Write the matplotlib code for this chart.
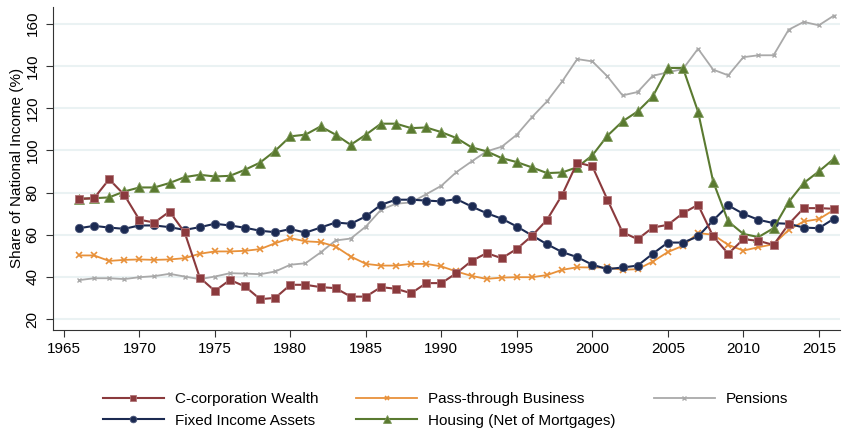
import numpy as np
import matplotlib
matplotlib.use('Agg')
import matplotlib.pyplot as plt

plt.rcParams['font.family'] = ['Liberation Sans', 'DejaVu Sans']

# Years 1966-2016
years = list(range(1966, 2017))

# Share of national income (%)
ccorp = [77.0, 77.3, 86.3, 78.9, 67.1, 65.8, 71.0, 61.1, 39.7, 33.4,
         38.6, 35.5, 29.5, 30.1, 36.3, 36.3, 35.2, 34.7, 30.7, 30.7,
         35.2, 34.4, 32.3, 37.1, 37.1, 41.8, 47.6, 51.3, 48.9, 53.3,
         59.5, 67.1, 78.9, 94.2, 92.4, 76.6, 61.2, 57.9, 63.4, 64.7,
         70.2, 74.2, 59.2, 51.0, 57.9, 57.1, 55.2, 65.0, 72.6, 72.6,
         72.3]
passthrough = [50.2, 50.2, 47.6, 48.1, 48.3, 48.1, 48.3, 48.9, 51.0, 52.1,
               52.1, 52.4, 53.2, 56.0, 58.4, 56.9, 56.5, 54.4, 49.7, 46.2,
               45.4, 45.4, 46.2, 46.2, 45.0, 42.6, 40.5, 39.1, 39.7, 39.9,
               39.9, 40.9, 43.4, 44.6, 44.5, 44.5, 43.4, 43.7, 47.3, 51.8,
               54.8, 60.8, 60.0, 55.2, 52.5, 54.1, 55.5, 62.3, 66.3, 67.4,
               71.8]
pensions = [38.5, 39.4, 39.4, 39.0, 39.9, 40.4, 41.5, 40.2, 39.0, 40.2,
            41.8, 41.6, 41.3, 42.6, 45.8, 46.5, 51.6, 57.3, 58.2, 63.9,
            71.8, 74.7, 75.3, 79.2, 83.2, 89.7, 94.7, 99.5, 101.7, 107.4,
            115.7, 123.2, 132.6, 143.2, 142.1, 135.0, 126.0, 127.6, 135.3, 136.9,
            138.5, 148.1, 138.2, 135.5, 144.1, 145.0, 145.0, 157.1, 160.8, 159.2,
            163.8]
fixed_income = [63.1, 64.2, 63.4, 62.8, 64.4, 64.4, 63.6, 62.3, 63.6, 65.2,
                64.4, 63.3, 61.9, 61.2, 62.7, 61.0, 63.4, 65.8, 65.2, 68.7,
                74.2, 76.6, 76.6, 76.2, 75.8, 76.9, 73.4, 70.2, 67.6, 63.9,
                59.7, 55.5, 51.8, 49.4, 45.8, 43.7, 44.5, 45.4, 51.0, 56.3,
                56.3, 59.2, 66.8, 73.9, 69.9, 67.1, 65.5, 65.2, 63.4, 63.1,
                67.6]
housing = [77.0, 77.3, 77.7, 80.5, 82.4, 82.4, 84.5, 87.3, 88.4, 87.6,
           87.9, 90.8, 94.2, 99.8, 106.6, 107.4, 111.3, 107.4, 102.6, 107.4,
           112.6, 112.6, 110.5, 110.8, 108.6, 105.8, 101.4, 99.5, 96.3, 94.4,
           91.9, 89.2, 89.5, 92.0, 97.6, 106.9, 113.7, 118.4, 125.5, 139.0,
           139.0, 118.3, 85.2, 66.3, 60.4, 58.9, 63.1, 75.5, 84.5, 90.0,
           96.0]

xticks = list(range(1965, 2020, 5))
yticks = list(range(20, 180, 20))

fig = plt.figure(figsize=(8.42, 4.30), dpi=100)
ax = fig.add_axes([0.0633, 0.2326, 0.9343, 0.7518])

# gridlines
for yv in yticks:
    ax.axhline(yv, color='#eaf2f3', lw=1.5, zorder=0)

ax.plot(years, pensions, color='#a9a9a9', lw=1.3, marker='x', ms=3.5, mew=1,
        label='Pensions', zorder=2)
ax.plot(years, passthrough, color='#e8913a', lw=1.3, marker='x', ms=4, mew=1.2,
        label='Pass-through Business', zorder=3)
ax.plot(years, fixed_income, color='#1b2a52', lw=1.5, marker='o', ms=6,
        mec='#4a5578', mew=0.6, label='Fixed Income Assets', zorder=4)
ax.plot(years, housing, color='#5a7a30', lw=1.5, marker='^', ms=7,
        mec='#7f9a5c', mew=0.6, label='Housing (Net of Mortgages)', zorder=5)
ax.plot(years, ccorp, color='#8b3a3d', lw=1.5, marker='s', ms=6,
        mec='#b07578', mew=0.6, label='C-corporation Wealth', zorder=6)

ax.set_xlim(1964.3, 2016.4)
ax.set_ylim(14.9, 168)
ax.set_xticks(xticks)
ax.set_yticks(yticks)
ax.tick_params(axis='both', labelsize=11, length=5, width=0.8, color='#333333')
ax.tick_params(axis='y', pad=5)
plt.setp(ax.get_yticklabels(), rotation=90, va='center')
ax.set_ylabel('Share of National Income (%)', fontsize=11, labelpad=1)

for side in ['top', 'right']:
    ax.spines[side].set_visible(False)
for side in ['left', 'bottom']:
    ax.spines[side].set_color('#333333')
    ax.spines[side].set_linewidth(0.8)

# legend in row order like the reference
h, l = ax.get_legend_handles_labels()
d = dict(zip(l, h))
order = ['C-corporation Wealth', 'Fixed Income Assets', 'Pass-through Business',
         'Housing (Net of Mortgages)', 'Pensions']
fig.legend([d[k] for k in order], order, loc='center', ncol=3,
           bbox_to_anchor=(0.529, 0.047), frameon=False, fontsize=11,
           handlelength=4.0, handletextpad=0.7, columnspacing=2.5,
           labelspacing=0.5, numpoints=1, borderpad=0.2, markerscale=0.8)

fig.savefig('out.png', dpi=100)
